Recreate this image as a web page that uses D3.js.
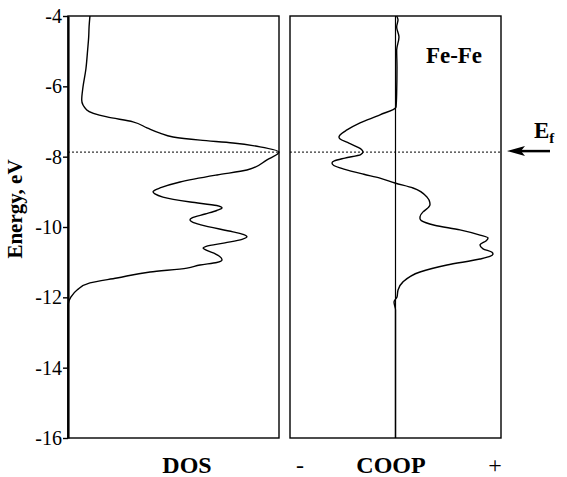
<!DOCTYPE html>
<html>
<head>
<meta charset="utf-8">
<script src="https://cdn.jsdelivr.net/npm/d3@7"></script>
<style>
  body { margin: 0; background: #fff; }
  text { font-family: "Liberation Serif", "Times New Roman", serif; fill: #000; }
</style>
</head>
<body>
<div id="chart"></div>
<script>
// energy ticks (eV)
const energyTicks = [-4, -6, -8, -10, -12, -14, -16];
const fermiLevel = -7.87;

// DOS curve (energy, relative DOS 0..1)
const dosEnergy = [-4.00, -4.30, -4.60, -4.97, -5.50, -6.02, -6.39, -6.67, -6.87, -7.01, -7.18, -7.33, -7.44, -7.53, -7.61, -7.72, -7.87,
  -8.09, -8.38, -8.52, -8.72, -8.89, -8.95, -9.00, -9.06, -9.15, -9.29, -9.39, -9.46, -9.53, -9.63, -9.74, -9.80, -9.86, -9.94,
  -10.14, -10.21, -10.28, -10.35, -10.45, -10.55, -10.60, -10.66, -10.77, -10.87, -10.94, -11.01,
  -11.08, -11.17, -11.28, -11.45, -11.59, -11.79, -11.99, -12.22, -14.00, -16.00];
const dosValue = [0.104, 0.100, 0.098, 0.093, 0.085, 0.071, 0.065, 0.089, 0.185, 0.308, 0.374, 0.436, 0.498, 0.626, 0.782, 0.910, 1.000,
  0.943, 0.848, 0.706, 0.531, 0.436, 0.412, 0.403, 0.412, 0.450, 0.580, 0.705, 0.730, 0.705, 0.650, 0.588, 0.578, 0.590, 0.630,
  0.782, 0.830, 0.848, 0.825, 0.744, 0.655, 0.640, 0.655, 0.700, 0.725, 0.730, 0.705,
  0.626, 0.564, 0.389, 0.232, 0.104, 0.043, 0.014, 0.000, 0.000, 0.000];

// Fe-Fe COOP curve (energy, relative COOP -1..1)
const coopEnergy = [-4.00, -4.11, -4.31, -4.60, -4.97, -5.45, -6.19, -6.59, -6.81, -7.04, -7.24, -7.38, -7.44, -7.50, -7.60, -7.72, -7.80, -7.87, -7.94,
  -8.04, -8.12, -8.18, -8.25, -8.36, -8.50, -8.61, -8.75, -8.89, -9.15, -9.30, -9.37, -9.45, -9.57, -9.70, -9.76, -9.82, -9.95, -10.08, -10.23, -10.31, -10.39,
  -10.51, -10.62, -10.72, -10.77, -10.83, -10.91,
  -11.08, -11.28, -11.56, -11.79, -11.99, -12.13, -12.36, -14.00, -16.00];
const coopValue = [0.011, 0.024, 0.011, 0.033, 0.011, 0.014, 0.011, 0.005, -0.147, -0.336, -0.460, -0.525, -0.536, -0.525, -0.450, -0.365, -0.320, -0.308, -0.330,
  -0.480, -0.580, -0.602, -0.585, -0.480, -0.300, -0.147, -0.005, 0.166, 0.299, 0.325, 0.327, 0.310, 0.261, 0.233, 0.232, 0.245, 0.370, 0.611, 0.801, 0.877, 0.860,
  0.801, 0.830, 0.915, 0.924, 0.900, 0.801,
  0.488, 0.232, 0.071, 0.024, 0.014, -0.014, 0.000, 0.000, 0.000];

const width = 567, height = 477;
const svg = d3.select("#chart").append("svg")
  .attr("width", width)
  .attr("height", height);

const y = d3.scaleLinear().domain([-4, -16]).range([16, 438]);
const xDos = d3.scaleLinear().domain([0, 1]).range([68, 279]);
const xCoop = d3.scaleLinear().domain([-1, 1]).range([290, 501]);

// panel frames
[xDos, xCoop].forEach(x => {
  const [x0, x1] = x.range();
  svg.append("rect")
    .attr("x", x0).attr("y", y(-4))
    .attr("width", x1 - x0).attr("height", y(-16) - y(-4))
    .attr("fill", "none").attr("stroke", "#000").attr("stroke-width", 1.4);
});

// zero line of COOP
svg.append("line")
  .attr("x1", xCoop(0)).attr("x2", xCoop(0))
  .attr("y1", y(-4)).attr("y2", y(-16))
  .attr("stroke", "#000").attr("stroke-width", 1.2);

// Fermi level, dotted
[xDos, xCoop].forEach(x => {
  svg.append("line")
    .attr("x1", x.range()[0]).attr("x2", x.range()[1])
    .attr("y1", y(fermiLevel)).attr("y2", y(fermiLevel))
    .attr("stroke", "#000").attr("stroke-width", 1)
    .attr("stroke-dasharray", "2,2");
});

// energy axis
const axis = d3.axisLeft(y)
  .tickValues(energyTicks)
  .tickFormat(d => String(d))
  .tickSize(5)
  .tickSizeOuter(0)
  .tickPadding(1);

const gAxis = svg.append("g")
  .attr("transform", `translate(${xDos(0)},0)`)
  .call(axis);
gAxis.select(".domain").attr("stroke-width", 2.2);
gAxis.selectAll(".tick line").attr("stroke-width", 1.4);
gAxis.selectAll(".tick text")
  .style("font-family", "'Liberation Serif', serif")
  .style("font-size", "20px")
  .attr("fill", "#000");

// curves: monotone in energy gives rounded peaks like the original plot
const dosLine = d3.line()
  .x(d => xDos(d[1]))
  .y(d => y(d[0]))
  .curve(d3.curveMonotoneY);
svg.append("path")
  .datum(d3.zip(dosEnergy, dosValue))
  .attr("d", dosLine)
  .attr("fill", "none").attr("stroke", "#000").attr("stroke-width", 1.4);

const coopLine = d3.line()
  .x(d => xCoop(d[1]))
  .y(d => y(d[0]))
  .curve(d3.curveMonotoneY);
svg.append("path")
  .datum(d3.zip(coopEnergy, coopValue))
  .attr("d", coopLine)
  .attr("fill", "none").attr("stroke", "#000").attr("stroke-width", 1.4);

// labels
svg.append("text")
  .attr("transform", "translate(22,209) rotate(-90)")
  .attr("text-anchor", "middle")
  .style("font-weight", "bold").style("font-size", "21px")
  .text("Energy, eV");

svg.append("text")
  .attr("x", 187).attr("y", 473)
  .attr("text-anchor", "middle")
  .style("font-weight", "bold").style("font-size", "24px")
  .text("DOS");

svg.append("text")
  .attr("x", 391).attr("y", 473)
  .attr("text-anchor", "middle")
  .style("font-weight", "bold").style("font-size", "24px")
  .text("COOP");

svg.append("text")
  .attr("x", 300).attr("y", 473)
  .attr("text-anchor", "middle")
  .style("font-size", "24px")
  .text("-");

svg.append("text")
  .attr("x", 495).attr("y", 473)
  .attr("text-anchor", "middle")
  .style("font-size", "24px")
  .text("+");

svg.append("text")
  .attr("x", 454).attr("y", 63)
  .attr("text-anchor", "middle")
  .style("font-weight", "bold").style("font-size", "23px")
  .text("Fe-Fe");

// E_f label with arrow
const ef = svg.append("text")
  .attr("x", 534).attr("y", 138)
  .style("font-weight", "bold").style("font-size", "23px");
ef.append("tspan").text("E");
ef.append("tspan").attr("dy", 5).style("font-size", "15px").text("f");

const ay = y(fermiLevel) - 1;
svg.append("line")
  .attr("x1", 520).attr("x2", 550)
  .attr("y1", ay).attr("y2", ay)
  .attr("stroke", "#000").attr("stroke-width", 2.5);
svg.append("path")
  .attr("d", `M507,${ay} L525,${ay - 5} L521,${ay} L525,${ay + 5} Z`)
  .attr("fill", "#000");
</script>
</body>
</html>
